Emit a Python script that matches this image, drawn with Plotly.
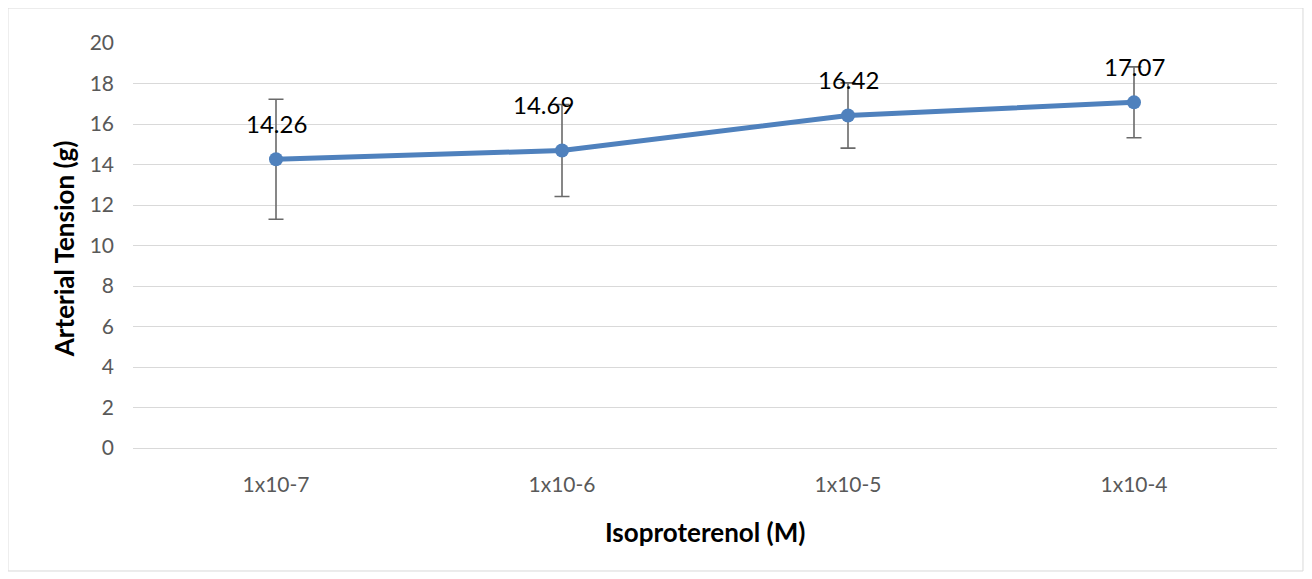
import plotly.graph_objects as go

categories = ["1x10-7", "1x10-6", "1x10-5", "1x10-4"]
tension = [14.26, 14.69, 16.42, 17.07]
errors = [2.96, 2.27, 1.61, 1.75]
label_texts = ["14.26", "14.69", "16.42", "17.07"]
label_dx = [0, -19, 0, 0]
label_dy = [36, 46, 36, 36]
y_ticks = [0, 2, 4, 6, 8, 10, 12, 14, 16, 18, 20]

FONT = "Lato, 'Open Sans', sans-serif"

fig = go.Figure()
fig.add_trace(go.Scatter(
    x=categories, y=tension, mode="lines+markers",
    line=dict(color="#4F81BD", width=5),
    marker=dict(color="#4F81BD", size=14),
    error_y=dict(type="data", array=errors, visible=True,
                 color="#6A6A6A", thickness=1.6, width=7.5),
    showlegend=False, hoverinfo="skip",
))

for c, v, t, dx, dy in zip(categories, tension, label_texts, label_dx, label_dy):
    fig.add_annotation(x=c, y=v, text=t, showarrow=False,
                       xshift=dx, yshift=dy,
                       font=dict(family=FONT, size=24, color="#000000"))

fig.add_annotation(xref="paper", yref="paper", x=-0.0603, y=0.491,
                   text="<b>Arterial Tension (g)</b>", textangle=-90,
                   showarrow=False, xanchor="center", yanchor="middle",
                   font=dict(family=FONT, size=26, color="#000000"))
fig.add_annotation(xref="paper", yref="paper", x=0.5, y=-0.2074,
                   text="<b>Isoproterenol (M)</b>",
                   showarrow=False, xanchor="center", yanchor="middle",
                   font=dict(family=FONT, size=26, color="#000000"))

fig.add_shape(type="rect", xref="paper", yref="paper",
              x0=-0.1093, x1=1.0227, y0=-0.3037, y1=1.0864,
              line=dict(color="#D9D9D9", width=1), layer="below")

fig.update_layout(
    width=1312, height=579,
    margin=dict(l=125, r=43, t=35, b=139),
    paper_bgcolor="white", plot_bgcolor="white",
    font=dict(family=FONT, color="#595959"),
    xaxis=dict(
        type="category", range=[-0.5, 3.5],
        showgrid=False, showline=False, zeroline=False,
        ticks="", tickfont=dict(size=21, color="#595959"),
        ticklabelstandoff=22,
    ),
    yaxis=dict(
        range=[0, 20], tickvals=y_ticks,
        showgrid=True, gridcolor="#D9D9D9", gridwidth=1,
        zeroline=True, zerolinecolor="#D9D9D9", zerolinewidth=1,
        showline=False, ticks="",
        tickfont=dict(size=21, color="#595959"),
        ticklabelstandoff=18,
    ),
)

fig.write_html("out.html")
